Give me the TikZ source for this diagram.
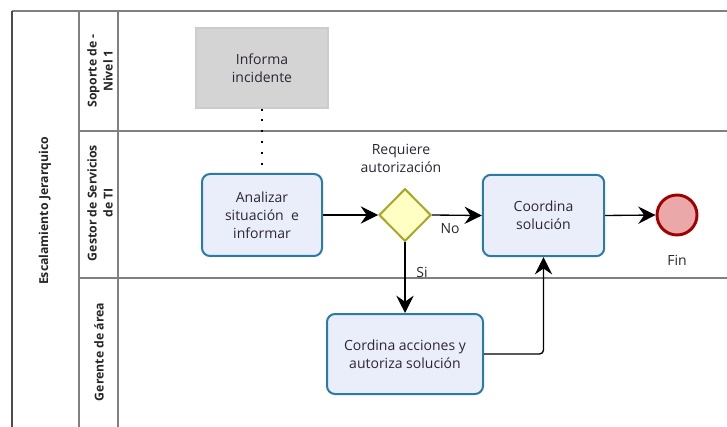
\documentclass[tikz,border=0pt]{standalone}
\usepackage{fontspec}
\setmainfont{Open Sans}
\usetikzlibrary{shapes.geometric,arrows.meta}
\definecolor{lanegray}{HTML}{808080}
\definecolor{taskfill}{HTML}{EAEEFB}
\definecolor{taskdraw}{HTML}{2A7BA8}
\definecolor{gwfill}{HTML}{FFFFC4}
\definecolor{gwdraw}{HTML}{A8A828}
\definecolor{endfill}{HTML}{EBA8A8}
\definecolor{enddraw}{HTML}{A00000}
\definecolor{txt}{HTML}{2D2535}
\definecolor{extfill}{HTML}{D4D4D4}
\tikzset{
  every node/.style={font=\fontsize{10.5}{13.5}\selectfont, text=txt},
  task/.style={draw=taskdraw, fill=taskfill, line width=1.5pt, rounded corners=6pt,
    align=center, inner sep=0pt},
  exttask/.style={draw=black!20, fill=extfill, line width=0.8pt, align=center, inner sep=0pt},
  gateway/.style={diamond, draw=gwdraw, fill=gwfill, line width=1.5pt, aspect=1,
    minimum width=39pt, minimum height=39.5pt, inner sep=0pt},
  endev/.style={circle, draw=enddraw, fill=endfill, line width=2.2pt, minimum size=30pt, inner sep=0pt},
  flow/.style={-{Stealth[length=13pt,width=13pt,inset=4.5pt]}, line width=1pt, draw=black},
  lanelbl/.style={rotate=90, align=center, font=\bfseries\fontsize{9.2}{12}\selectfont, text=black!85},
  lbl/.style={align=center, inner sep=0pt},
  poolline/.style={draw=lanegray, line width=1.2pt},
}
\begin{document}
\begin{tikzpicture}[x=0.75pt,y=0.75pt]
\useasboundingbox (0,0) rectangle (727,-427);
\fill[white] (0,0) rectangle (727,-427);
% pool and lanes
\draw[poolline] (12,-11) -- (727,-11);
\draw[poolline] (79,-131) -- (727,-131);
\draw[poolline] (79,-278) -- (727,-278);
\draw[poolline, draw=black!70] (12,-11) -- (12,-427);
\draw[poolline] (79,-11) -- (79,-427);
\draw[poolline] (118,-11) -- (118,-427);
\node[lanelbl] (pool) at (45,-211) {Escalamiento Jerarquico};
\node[lanelbl] (lane1) at (100,-71) {Soporte de -\\Nivel 1};
\node[lanelbl] (lane2) at (100,-203) {Gestor de Servicios\\de TI};
\node[lanelbl] (lane3) at (99,-352) {Gerente de área};
% tasks
\node[exttask, minimum width=99pt, minimum height=60pt] (inf) at (262,-68) {Informa\\incidente};
\node[task, minimum width=90pt, minimum height=61.5pt] (ana) at (262,-215) {Analizar\\situación\ \ e\\informar};
\node[gateway] (gw) at (405,-215) {};
\node[task, minimum width=91pt, minimum height=61pt] (coo) at (543.5,-215.5) {Coordina\\solución};
\node[task, minimum width=117pt, minimum height=60pt] (cor) at (405,-354) {Cordina acciones y\\autoriza solución};
\node[endev] (fin) at (677,-215) {};
% labels
\node[lbl] (req) at (401,-158.5) {Requiere\\autorización};
\node[lbl] (no) at (450,-229) {No};
\node[lbl] (si) at (422,-272) {Si};
\node[lbl] (finl) at (677,-260) {Fin};
% connectors
\draw[black, line width=1.6pt, dash pattern=on 1.6pt off 6.5pt] (inf.south) -- (ana.north);
\draw[flow] (ana.east) -- (gw.west);
\draw[flow] (gw.east) -- (coo.west);
\draw[flow] (gw.south) -- (cor.north);
\draw[flow] (coo.east) -- (fin.west);
\draw[flow, rounded corners=3pt] (cor.east) -| (coo.south);
\end{tikzpicture}
\end{document}
